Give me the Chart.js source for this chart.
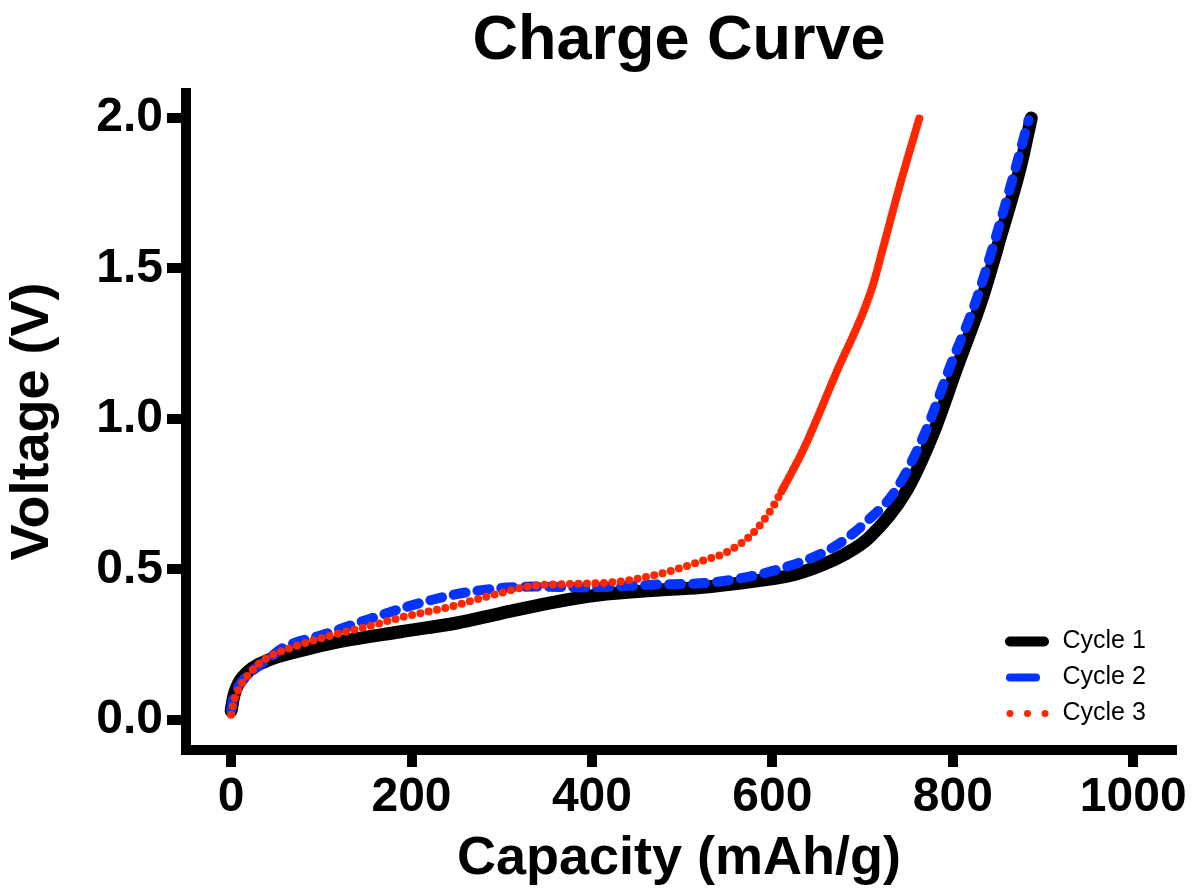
<!DOCTYPE html>
<html>
<head>
<meta charset="utf-8">
<script src="https://cdn.jsdelivr.net/npm/chart.js@4.4.1/dist/chart.umd.min.js"></script>
<style>
  body { margin: 0; background: #fff; }
</style>
</head>
<body>
<canvas id="chargeChart" width="1196" height="895"></canvas>
<script>
// values (capacity mAh/g, voltage V)
const cycle1Cap = [0, 3, 8, 21, 40, 77, 120, 188, 250, 299, 354, 407, 466, 520, 577, 620, 651, 680, 707, 747, 778, 805, 832, 854, 875, 887];
const cycle1V   = [0.03, 0.08, 0.12, 0.166, 0.197, 0.23, 0.26, 0.293, 0.322, 0.354, 0.389, 0.415, 0.43, 0.44, 0.46, 0.48, 0.51, 0.55, 0.605, 0.753, 0.95, 1.174, 1.395, 1.617, 1.838, 2.0];

const cycle2Cap = [0, 2, 8, 21, 40, 58, 102, 151, 195, 247, 291, 336, 391, 466, 540, 613, 669, 707, 736, 769, 797, 826, 849, 870, 884];
const cycle2V   = [0.03, 0.066, 0.11, 0.156, 0.2, 0.24, 0.283, 0.333, 0.376, 0.416, 0.436, 0.443, 0.44, 0.449, 0.459, 0.506, 0.576, 0.666, 0.76, 0.952, 1.174, 1.395, 1.617, 1.838, 1.993];

const cycle3Cap = [0, 3, 8, 21, 40, 77, 114, 151, 188, 243, 291, 336, 380, 429, 480, 521, 551, 577, 599, 610, 636, 669, 710, 723, 742, 763];
const cycle3V   = [0.017, 0.06, 0.10, 0.157, 0.206, 0.25, 0.283, 0.31, 0.34, 0.376, 0.416, 0.446, 0.452, 0.459, 0.489, 0.527, 0.56, 0.616, 0.70, 0.759, 0.909, 1.141, 1.431, 1.572, 1.784, 2.0];

const seriesNames = ['Cycle 1', 'Cycle 2', 'Cycle 3'];
const xTicks = [0, 200, 400, 600, 800, 1000];
const yTicks = [0, 0.5, 1.0, 1.5, 2.0];

const FONT = "'Liberation Sans', Arial, Helvetica, sans-serif";

function pairs(xs, ys) {
    return xs.map((x, i) => ({ x: x, y: ys[i] }));
}

// legend swatches: thick black bar, short blue bar, three red dots
const legendLook = [
    { width: 10, dash: [34, 200] },
    { width: 8, dash: [26, 200] },
    { width: 7, dash: [0, 17.5, 0, 17.5, 0, 200] }
];

// put the legend in the lower right corner of the plot
const legendSpot = {
    id: 'legendSpot',
    beforeDraw(chart) {
        const lg = chart.legend;
        lg.left = 999;
        lg.top = 618;
        lg.right = 1190;
        lg.bottom = 890;
    }
};

Chart.defaults.color = '#000';
Chart.defaults.font.family = FONT;

new Chart(document.getElementById('chargeChart'), {
    type: 'line',
    data: {
        datasets: [
            {
                label: seriesNames[0],
                data: pairs(cycle1Cap, cycle1V),
                borderColor: '#000000',
                borderWidth: 13,
                borderCapStyle: 'round',
                borderJoinStyle: 'round',
                cubicInterpolationMode: 'monotone',
                pointRadius: 0,
                order: 3
            },
            {
                label: seriesNames[1],
                data: pairs(cycle2Cap, cycle2V),
                borderColor: '#0433FF',
                borderWidth: 10,
                borderDash: [12, 12],
                borderCapStyle: 'round',
                borderJoinStyle: 'round',
                cubicInterpolationMode: 'monotone',
                pointRadius: 0,
                order: 2
            },
            {
                label: seriesNames[2],
                data: pairs(cycle3Cap, cycle3V),
                borderColor: '#FF2600',
                borderWidth: 8,
                borderDash: [0, 8.5],
                borderCapStyle: 'round',
                borderJoinStyle: 'round',
                cubicInterpolationMode: 'monotone',
                pointRadius: 0,
                order: 1,
                // steep part: the dots crowd together
                segment: {
                    borderDash: ctx => ctx.p0.parsed.y >= 0.75 ? [0, 3] : undefined
                }
            }
        ]
    },
    options: {
        responsive: false,
        animation: false,
        layout: { padding: { left: 0, right: 24, top: 0, bottom: 0 } },
        scales: {
            x: {
                type: 'linear',
                min: -50,
                max: 1043,
                afterBuildTicks: s => { s.ticks = xTicks.map(v => ({ value: v })); },
                afterFit: s => { s.height = 145; },
                border: { display: true, width: 10, color: '#000' },
                grid: { drawOnChartArea: false, color: '#000', lineWidth: 10, tickLength: 17 },
                ticks: {
                    padding: 2,
                    font: { size: 48, weight: 'bold' },
                    callback: v => String(v)
                },
                title: {
                    display: true,
                    text: 'Capacity (mAh/g)',
                    font: { size: 54, weight: 'bold' },
                    padding: { top: 0, bottom: 3 }
                }
            },
            y: {
                type: 'linear',
                min: -0.1,
                max: 2.083,
                afterBuildTicks: s => { s.ticks = yTicks.map(v => ({ value: v })); },
                afterFit: s => { s.width = 186; },
                border: { display: true, width: 10, color: '#000' },
                grid: { drawOnChartArea: false, color: '#000', lineWidth: 10, tickLength: 19 },
                ticks: {
                    padding: 4,
                    font: { size: 48, weight: 'bold' },
                    callback: v => Number(v).toFixed(1)
                },
                title: {
                    display: true,
                    text: 'Voltage (V)',
                    font: { size: 54, weight: 'bold' },
                    padding: { top: 1, bottom: 0 }
                }
            }
        },
        plugins: {
            title: {
                display: true,
                text: 'Charge Curve',
                fullSize: false,
                font: { size: 63, weight: 'bold' },
                padding: { top: 3.4, bottom: 14 }
            },
            legend: {
                position: 'chartArea',
                align: 'start',
                labels: {
                    usePointStyle: true,
                    pointStyle: 'line',
                    pointStyleWidth: 40,
                    padding: 11,
                    font: { size: 25 },
                    sort: (a, b) => a.datasetIndex - b.datasetIndex,
                    generateLabels: chart => {
                        const items = Chart.defaults.plugins.legend.labels.generateLabels(chart);
                        items.forEach(it => {
                            const look = legendLook[it.datasetIndex];
                            it.lineWidth = look.width;
                            it.lineDash = look.dash;
                            it.lineCap = 'round';
                            it.fillStyle = 'rgba(0,0,0,0)';
                            it.pointStyle = 'line';
                        });
                        return items;
                    }
                }
            },
            tooltip: { enabled: false }
        }
    },
    plugins: [legendSpot]
});
</script>
</body>
</html>
